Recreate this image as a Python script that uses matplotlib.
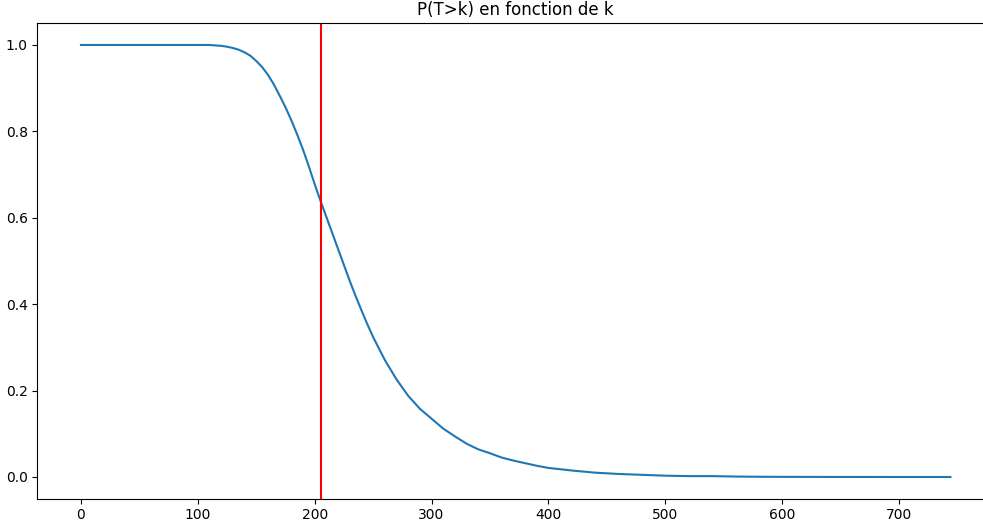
import matplotlib
matplotlib.use('Agg')
import matplotlib.pyplot as plt

# values
k_values = [0, 100, 110, 115, 120, 125, 130, 135, 140, 145, 150, 155, 160, 165, 170,
            175, 180, 185, 190, 195, 200, 205, 210, 215, 220, 225, 230, 235, 240,
            245, 250, 260, 270, 280, 290, 300, 310, 320, 330, 340, 350, 360, 370,
            380, 390, 400, 420, 440, 460, 480, 500, 520, 540, 560, 580, 600, 650,
            700, 744]
p_values = [1.0, 1.0, 1.0, 0.999, 0.998, 0.996, 0.993, 0.989, 0.983, 0.975, 0.963,
            0.949, 0.931, 0.909, 0.883, 0.856, 0.826, 0.793, 0.758, 0.719, 0.678,
            0.639, 0.602, 0.565, 0.528, 0.491, 0.454, 0.419, 0.386, 0.354, 0.324,
            0.271, 0.226, 0.188, 0.158, 0.135, 0.112, 0.094, 0.077, 0.064, 0.055,
            0.045, 0.038, 0.032, 0.026, 0.021, 0.015, 0.010, 0.007, 0.005, 0.003,
            0.002, 0.002, 0.001, 0.0005, 0.0003, 0.0001, 0.0, 0.0]
k_mark = 205

fig = plt.figure(figsize=(9.83, 5.24), dpi=100)
ax = fig.add_axes([0.0381, 0.0485, 0.973, 0.9069])
ax.plot(k_values, p_values)
ax.axvline(k_mark, color='red')
ax.set_title('P(T>k) en fonction de k')

fig.savefig('out.png', dpi=100)
